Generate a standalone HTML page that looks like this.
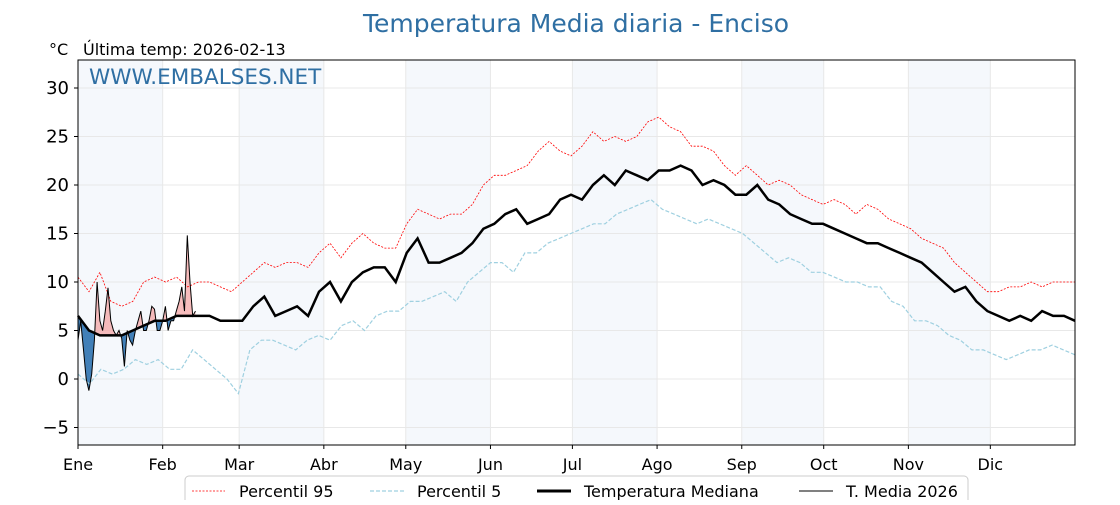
<!DOCTYPE html>
<html><head><meta charset="utf-8"><style>
body{margin:0;background:#fff;}
svg text{font-family:"DejaVu Sans","Liberation Sans",sans-serif;}
</style></head><body>
<svg id="chart" width="1120" height="500" xmlns="http://www.w3.org/2000/svg">
<rect width="1120" height="500" fill="#fff"/>
<text x="576" y="32" text-anchor="middle" font-size="25" fill="#2f6fa3">Temperatura Media diaria - Enciso</text>
<text x="49" y="55" font-size="16" fill="#000">°C</text>
<text x="83" y="55" font-size="16" fill="#000">Última temp: 2026-02-13</text>
<g id="bands"></g><g id="grid"></g>
<g id="plot"></g>
<rect x="78" y="60" width="997" height="385" fill="none" stroke="#000" stroke-width="1"/>
<text x="89" y="84" font-size="21.5" fill="#2f6fa3">WWW.EMBALSES.NET</text>
<g id="axes"></g>
<g>
<rect x="185" y="476" width="783" height="34" rx="4" fill="#fff" stroke="#ccc"/>
<line x1="192" y1="491" x2="225" y2="491" stroke="red" stroke-width="0.8" stroke-dasharray="2,1.5"/>
<text x="239" y="497" font-size="16">Percentil 95</text>
<line x1="370" y1="491" x2="404" y2="491" stroke="#9fd0e0" stroke-width="1.2" stroke-dasharray="4,2"/>
<text x="417" y="497" font-size="16">Percentil 5</text>
<line x1="537" y1="491" x2="571" y2="491" stroke="#000" stroke-width="3"/>
<text x="584" y="497" font-size="16">Temperatura Mediana</text>
<line x1="799" y1="491" x2="833" y2="491" stroke="#000" stroke-width="1"/>
<text x="846" y="497" font-size="16">T. Media 2026</text>
</g>
</svg>
<script>
const months=["Ene","Feb","Mar","Abr","May","Jun","Jul","Ago","Sep","Oct","Nov","Dic"];
const monthStart=[0,31,59,90,120,151,181,212,243,273,304,334];
const yTicks=[-5,0,5,10,15,20,25,30];
const median=[6.5,5,4.5,4.5,4.5,5,5.5,6,6,6.5,6.5,6.5,6.5,6,6,6,7.5,8.5,6.5,7,7.5,6.5,9,10,8,10,11,11.5,11.5,10,13,14.5,12,12,12.5,13,14,15.5,16,17,17.5,16,16.5,17,18.5,19,18.5,20,21,20,21.5,21,20.5,21.5,21.5,22,21.5,20,20.5,20,19,19,20,18.5,18,17,16.5,16,16,15.5,15,14.5,14,14,13.5,13,12.5,12,11,10,9,9.5,8,7,6.5,6,6.5,6,7,6.5,6.5,6];
const p95=[10.5,9,11,8,7.5,8,10,10.5,10,10.5,9.5,10,10,9.5,9,10,11,12,11.5,12,12,11.5,13,14,12.5,14,15,14,13.5,13.5,16,17.5,17,16.5,17,17,18,20,21,21,21.5,22,23.5,24.5,23.5,23,24,25.5,24.5,25,24.5,25,26.5,27,26,25.5,24,24,23.5,22,21,22,21,20,20.5,20,19,18.5,18,18.5,18,17,18,17.5,16.5,16,15.5,14.5,14,13.5,12,11,10,9,9,9.5,9.5,10,9.5,10,10,10];
const p5=[0.5,-0.5,1,0.5,1,2,1.5,2,1,1,3,2,1,0,-1.5,3,4,4,3.5,3,4,4.5,4,5.5,6,5,6.5,7,7,8,8,8.5,9,8,10,11,12,12,11,13,13,14,14.5,15,15.5,16,16,17,17.5,18,18.5,17.5,17,16.5,16,16.5,16,15.5,15,14,13,12,12.5,12,11,11,10.5,10,10,9.5,9.5,8,7.5,6,6,5.5,4.5,4,3,3,2.5,2,2.5,3,3,3.5,3,2.5];
const t2026=[4,6,3,0,-1.2,0.5,4,10,6,5,7,9.4,6,5,4.5,5,4.2,1.3,5,4,3.5,5,6,7,5,5,6,7.5,7.2,5,5,6,7.5,5,6,6,7,8,9.5,7,14.8,10,6.5,7];
const X0=78,X1=1075,Y0=60,Y1=445;
const xd=d=>X0+d*(X1-X0)/365;
const yv=v=>379-9.7*v;
const NS="http://www.w3.org/2000/svg";
function mk(t,a,p){const e=document.createElementNS(NS,t);for(const k in a)e.setAttribute(k,a[k]);p.appendChild(e);return e;}
const bands=document.getElementById('bands'),grid=document.getElementById('grid'),plot=document.getElementById('plot'),axes=document.getElementById('axes');
for(let m=0;m<12;m+=2){const s=monthStart[m],e=m+1<12?monthStart[m+1]:365;
const r=mk('rect',{x:xd(s),y:Y0,width:xd(e)-xd(s),height:Y1-Y0,fill:'#f5f8fc'},bands);

}
monthStart.forEach((d,i)=>{
const g=mk('line',{x1:xd(d),x2:xd(d),y1:Y0,y2:Y1,stroke:'#e8e8e8','stroke-width':1},grid);


mk('line',{x1:xd(d),x2:xd(d),y1:Y1,y2:Y1+4,stroke:'#000'},axes);
const t=mk('text',{x:xd(d),y:Y1+25,'font-size':16,'text-anchor':'middle'},axes);t.textContent=months[i];

});
yTicks.forEach(v=>{
const g=mk('line',{x1:X0,x2:X1,y1:yv(v),y2:yv(v),stroke:'#e8e8e8','stroke-width':1},grid);


mk('line',{x1:X0-4,x2:X0,y1:yv(v),y2:yv(v),stroke:'#000'},axes);
const t=mk('text',{x:X0-9,y:yv(v)+6,'font-size':18,'text-anchor':'end'},axes);t.textContent=v===-5?'−5':String(v);

});
const ptsOf=(arr,step)=>arr.map((v,i)=>[xd(i*step),yv(v)]);
const stepOf=arr=>365/(arr.length-1);
const str=p=>p.map(q=>q[0].toFixed(1)+','+q[1].toFixed(1)).join(' ');
const mPts=ptsOf(median,stepOf(median));
function medAt(d){const s=stepOf(median);const i=Math.min(Math.floor(d/s),median.length-2);const f=d/s-i;return median[i]*(1-f)+median[i+1]*f;}
const tPts=ptsOf(t2026,1);
const mUnder=t2026.map((v,i)=>[xd(i),yv(medAt(i))]);
const defs=mk('defs',{},plot);
const ca=mk('clipPath',{id:'above'},defs);mk('polygon',{points:str(mPts)+' '+X1+','+Y0+' '+X0+','+Y0},ca);
const cb=mk('clipPath',{id:'below'},defs);mk('polygon',{points:str(mPts)+' '+X1+','+Y1+' '+X0+','+Y1},cb);
const between=str(tPts)+' '+str(mUnder.slice().reverse());
const fa=mk('polygon',{points:between,fill:'#f4a0a0','fill-opacity':0.7,'clip-path':'url(#above)'},plot);


const fb=mk('polygon',{points:between,fill:'#2f72b0','fill-opacity':0.9,'clip-path':'url(#below)'},plot);


const l95=mk('polyline',{points:str(ptsOf(p95,stepOf(p95))),fill:'none',stroke:'red','stroke-width':0.8,'stroke-dasharray':'2,1.5'},plot);


const l5=mk('polyline',{points:str(ptsOf(p5,stepOf(p5))),fill:'none',stroke:'#9fd0e0','stroke-width':1.2,'stroke-dasharray':'4,2'},plot);


const lm=mk('polyline',{points:str(mPts),fill:'none',stroke:'#000','stroke-width':2.5},plot);


const lt=mk('polyline',{points:str(tPts),fill:'none',stroke:'#000','stroke-width':1},plot);


</script>
</body></html>
